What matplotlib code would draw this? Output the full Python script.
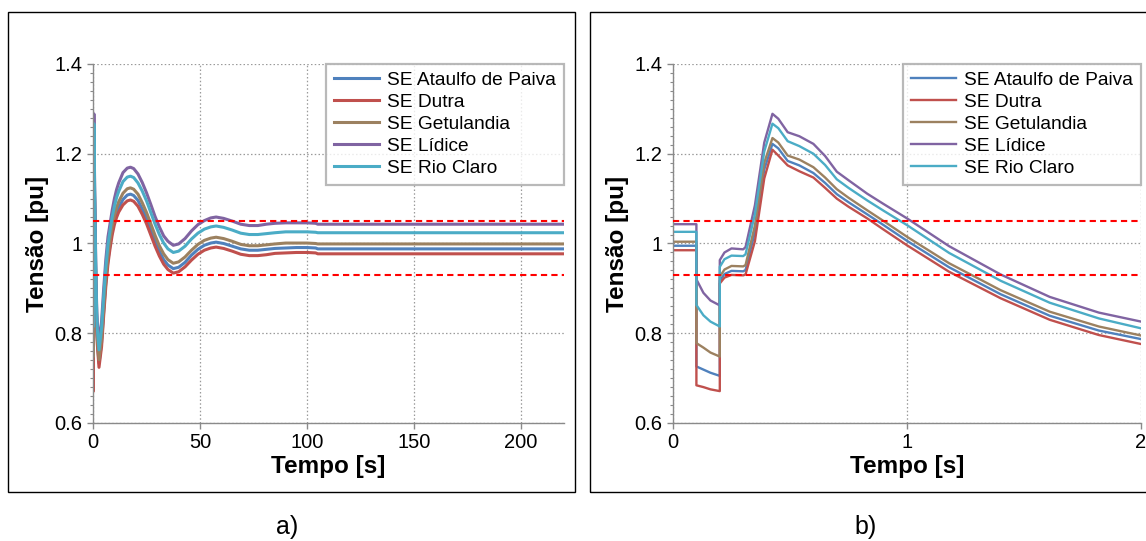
"""Voltage transient at five substations: long window (a) and first 2 s (b)."""

import matplotlib

matplotlib.use("Agg")
import matplotlib.pyplot as plt
from matplotlib.patches import Rectangle
from matplotlib.ticker import FuncFormatter, MultipleLocator

plt.rcParams["font.family"] = ["Liberation Sans", "DejaVu Sans"]

NAMES = ["SE Ataulfo de Paiva", "SE Dutra", "SE Getulandia", "SE Lídice", "SE Rio Claro"]
COLORS = ["#4F81BD", "#C0504D", "#9C8160", "#8064A2", "#4BACC6"]

LIMITS = [1.05, 0.93]

# first two seconds (panel b, also the start of panel a)
t_fast = [0.0, 0.1, 0.1, 0.13, 0.16, 0.2, 0.2, 0.22, 0.25, 0.3, 0.31, 0.35, 0.39,
          0.425, 0.45, 0.49, 0.54, 0.6, 0.65, 0.7, 0.75, 0.83, 0.9, 1.0, 1.18, 1.4,
          1.61, 1.82, 2.0]
ataulfo_fast = [0.995, 0.995, 0.726, 0.719, 0.712, 0.705, 0.917, 0.932, 0.939, 0.938, 0.941,
                1.025, 1.165, 1.222, 1.212, 1.184, 1.174, 1.157, 1.135, 1.110, 1.092, 1.065,
                1.041, 1.006, 0.947, 0.887, 0.839, 0.806, 0.787]
dutra_fast = [0.985, 0.985, 0.684, 0.680, 0.675, 0.671, 0.911, 0.924, 0.930, 0.929, 0.931,
              1.005, 1.145, 1.209, 1.196, 1.174, 1.161, 1.147, 1.124, 1.100, 1.082, 1.056,
              1.031, 0.996, 0.937, 0.878, 0.830, 0.796, 0.776]
getulandia_fast = [1.004, 1.004, 0.778, 0.768, 0.757, 0.748, 0.926, 0.942, 0.950, 0.949, 0.952,
                   1.040, 1.180, 1.235, 1.225, 1.196, 1.187, 1.170, 1.147, 1.121, 1.102, 1.074,
                   1.050, 1.015, 0.956, 0.896, 0.848, 0.815, 0.795]
lidice_fast = [1.043, 1.043, 0.920, 0.890, 0.873, 0.862, 0.963, 0.980, 0.989, 0.987, 0.992,
               1.085, 1.225, 1.289, 1.278, 1.248, 1.239, 1.222, 1.195, 1.160, 1.141, 1.111,
               1.088, 1.056, 0.994, 0.931, 0.881, 0.846, 0.826]
rioclaro_fast = [1.026, 1.026, 0.863, 0.840, 0.826, 0.815, 0.948, 0.965, 0.973, 0.972, 0.976,
                 1.065, 1.205, 1.267, 1.257, 1.228, 1.217, 1.200, 1.175, 1.143, 1.124, 1.096,
                 1.073, 1.041, 0.979, 0.917, 0.868, 0.833, 0.811]

# after 2 s (rest of panel a)
t_slow = [2.8, 4, 5, 6, 7, 8, 9, 10, 11, 12, 14, 16, 17.5, 19, 21, 23, 25, 27, 29, 31,
          33, 35, 37.5, 40, 43, 46, 49, 52, 55, 57.5, 61, 65, 69, 73, 77, 81, 85, 90, 95, 100,
          104, 105, 220]
ataulfo_slow = [0.733, 0.779, 0.850, 0.915, 0.963, 0.998, 1.028, 1.050, 1.066, 1.080,
                1.098, 1.108, 1.110, 1.107, 1.096, 1.077, 1.056, 1.030, 1.005, 0.983,
                0.964, 0.952, 0.944, 0.947, 0.958, 0.974, 0.987, 0.996, 1.001, 1.003,
                1.000, 0.994, 0.988, 0.985, 0.985, 0.987, 0.989, 0.990, 0.991, 0.991,
                0.990, 0.988, 0.988]
dutra_slow = [0.724, 0.770, 0.840, 0.905, 0.955, 0.990, 1.020, 1.042, 1.058, 1.070,
              1.086, 1.095, 1.097, 1.094, 1.083, 1.065, 1.044, 1.019, 0.994, 0.972,
              0.954, 0.942, 0.934, 0.937, 0.948, 0.963, 0.976, 0.985, 0.990, 0.992,
              0.989, 0.983, 0.976, 0.973, 0.973, 0.975, 0.978, 0.979, 0.980, 0.980,
              0.979, 0.977, 0.977]
getulandia_slow = [0.741, 0.788, 0.860, 0.925, 0.975, 1.010, 1.040, 1.063, 1.080, 1.093,
                   1.112, 1.122, 1.124, 1.121, 1.110, 1.091, 1.069, 1.044, 1.018, 0.995,
                   0.977, 0.964, 0.956, 0.959, 0.970, 0.985, 0.998, 1.007, 1.012, 1.014,
                   1.011, 1.005, 0.998, 0.995, 0.995, 0.997, 0.999, 1.001, 1.001, 1.001,
                   1.000, 0.999, 0.999]
lidice_slow = [0.778, 0.826, 0.900, 0.965, 1.015, 1.045, 1.075, 1.100, 1.120, 1.135,
               1.158, 1.168, 1.170, 1.167, 1.155, 1.136, 1.113, 1.087, 1.060, 1.037,
               1.017, 1.005, 0.996, 0.999, 1.011, 1.028, 1.042, 1.051, 1.057, 1.059,
               1.056, 1.050, 1.043, 1.040, 1.040, 1.043, 1.045, 1.046, 1.046, 1.046,
               1.045, 1.043, 1.043]
rioclaro_slow = [0.763, 0.811, 0.883, 0.948, 0.998, 1.030, 1.060, 1.083, 1.102, 1.116,
                 1.138, 1.148, 1.150, 1.147, 1.135, 1.117, 1.095, 1.069, 1.043, 1.020,
                 1.001, 0.988, 0.980, 0.983, 0.994, 1.010, 1.023, 1.032, 1.037, 1.039,
                 1.036, 1.030, 1.023, 1.020, 1.020, 1.022, 1.024, 1.026, 1.026, 1.026,
                 1.025, 1.024, 1.024]

FAST = [ataulfo_fast, dutra_fast, getulandia_fast, lidice_fast, rioclaro_fast]
SLOW = [ataulfo_slow, dutra_slow, getulandia_slow, lidice_slow, rioclaro_slow]

W, H = 1146, 541
GRID_GRAY = "#9A9A9A"
AXIS_GRAY = "#8A8A8A"


def style_axes(ax, xmax, xstep):
    """Common look of both panels."""
    ax.set_ylim(0.6, 1.4)
    ax.set_xlim(0, xmax)
    ax.xaxis.set_major_locator(MultipleLocator(xstep))
    ax.yaxis.set_major_locator(MultipleLocator(0.2))
    ax.yaxis.set_minor_locator(MultipleLocator(0.02))
    fmt = FuncFormatter(lambda v, _: f"{v:g}")
    ax.xaxis.set_major_formatter(fmt)
    ax.yaxis.set_major_formatter(fmt)
    for side in ("top", "right"):
        ax.spines[side].set_visible(False)
    for side in ("left", "bottom"):
        ax.spines[side].set_color(AXIS_GRAY)
        ax.spines[side].set_linewidth(1.0)
    ax.tick_params(axis="both", which="major", labelsize=14.5, color=AXIS_GRAY,
                   length=4.5, width=1.0, pad=3)
    ax.tick_params(axis="y", which="minor", color=AXIS_GRAY, length=2.5, width=0.8)
    ax.grid(True, which="major", color=GRID_GRAY, linestyle=(0, (1.2, 1.8)), linewidth=0.9)
    ax.set_axisbelow(True)
    for lim in LIMITS:
        ax.axhline(lim, color="#FF0000", linestyle=(0, (3, 2)), linewidth=1.5, zorder=5)
    ax.set_xlabel("Tempo [s]", fontsize=17.5, fontweight="bold", labelpad=2)
    ax.set_ylabel("Tensão [pu]", fontsize=17.5, fontweight="bold", labelpad=4)
    leg = ax.legend(loc="upper right", bbox_to_anchor=(1.0, 1.0), borderaxespad=0,
                    fontsize=13.8, frameon=True, fancybox=False, labelspacing=0.24,
                    handlelength=2.35, handletextpad=0.45, borderpad=0.4)
    leg.get_frame().set_edgecolor("#A8A8A8")
    leg.get_frame().set_linewidth(1.6)
    leg.set_zorder(10)


def main():
    fig = plt.figure(figsize=(W / 100, H / 100), dpi=100)

    ax_a = fig.add_axes([93 / W, 1 - 423 / H, 471 / W, 359 / H])
    ax_b = fig.add_axes([673 / W, 1 - 423 / H, 468 / W, 359 / H])

    for name, color, fast, slow in zip(NAMES, COLORS, FAST, SLOW):
        ax_a.plot(t_fast + t_slow, fast + slow, color=color, linewidth=2.2, label=name)
        ax_b.plot(t_fast, fast, color=color, linewidth=1.7, label=name)

    style_axes(ax_a, 220, 50)
    style_axes(ax_b, 2, 1)

    # panel frames and captions
    fig.add_artist(Rectangle((8 / W, 1 - 492 / H), 567 / W, 480 / H, transform=fig.transFigure,
                             fill=False, edgecolor="black", linewidth=1.0))
    fig.add_artist(Rectangle((590 / W, 1 - 492 / H), 600 / W, 480 / H, transform=fig.transFigure,
                             fill=False, edgecolor="black", linewidth=1.0))
    fig.text(287 / W, 1 - 527 / H, "a)", fontsize=18, ha="center", va="center")
    fig.text(866 / W, 1 - 527 / H, "b)", fontsize=18, ha="center", va="center")

    fig.savefig("out.png", dpi=100)
    plt.close(fig)


if __name__ == "__main__":
    main()
